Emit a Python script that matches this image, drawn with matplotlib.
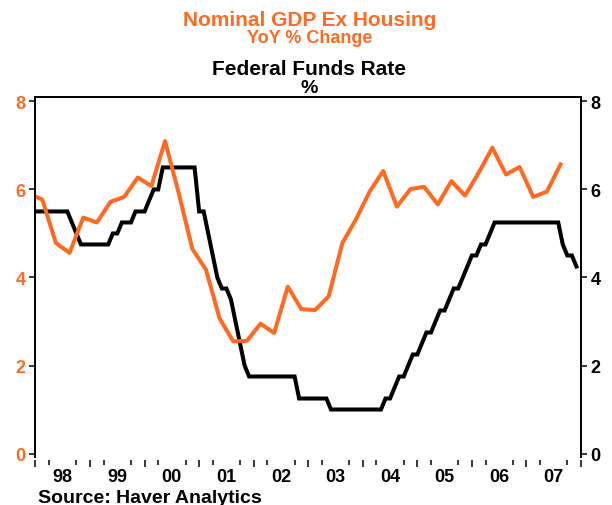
import matplotlib
matplotlib.use("Agg")
import matplotlib.pyplot as plt
import pandas as pd
from matplotlib.ticker import FixedLocator, NullFormatter

plt.rcParams['font.family'] = ['Liberation Sans', 'DejaVu Sans']

ORANGE = '#FF6A22'

# ---- data ----
gdp_quarters = ['1997Q4',
                '1998Q1', '1998Q2', '1998Q3', '1998Q4',
                '1999Q1', '1999Q2', '1999Q3', '1999Q4',
                '2000Q1', '2000Q2', '2000Q3', '2000Q4',
                '2001Q1', '2001Q2', '2001Q3', '2001Q4',
                '2002Q1', '2002Q2', '2002Q3', '2002Q4',
                '2003Q1', '2003Q2', '2003Q3', '2003Q4',
                '2004Q1', '2004Q2', '2004Q3', '2004Q4',
                '2005Q1', '2005Q2', '2005Q3', '2005Q4',
                '2006Q1', '2006Q2', '2006Q3', '2006Q4',
                '2007Q1', '2007Q2', '2007Q3']
gdp_yoy = [5.91,
           5.77, 4.78, 4.56, 5.36,
           5.25, 5.72, 5.83, 6.27,
           6.08, 7.10, 5.92, 4.65,
           4.18, 3.07, 2.55, 2.56,
           2.95, 2.74, 3.79, 3.28,
           3.26, 3.57, 4.78, 5.32,
           5.95, 6.42, 5.61, 6.01,
           6.06, 5.66, 6.19, 5.86,
           6.38, 6.95, 6.34, 6.51,
           5.83, 5.95, 6.57]

ff_start = '1998-01'
fed_funds = [
    5.50, 5.50, 5.50, 5.50, 5.50, 5.50, 5.50, 5.50, 5.25, 5.00, 4.75, 4.75,  # 1998
    4.75, 4.75, 4.75, 4.75, 4.75, 5.00, 5.00, 5.25, 5.25, 5.25, 5.50, 5.50,  # 1999
    5.50, 5.75, 6.00, 6.00, 6.50, 6.50, 6.50, 6.50, 6.50, 6.50, 6.50, 6.50,  # 2000
    5.50, 5.50, 5.00, 4.50, 4.00, 3.75, 3.75, 3.50, 3.00, 2.50, 2.00, 1.75,  # 2001
    1.75, 1.75, 1.75, 1.75, 1.75, 1.75, 1.75, 1.75, 1.75, 1.75, 1.25, 1.25,  # 2002
    1.25, 1.25, 1.25, 1.25, 1.25, 1.00, 1.00, 1.00, 1.00, 1.00, 1.00, 1.00,  # 2003
    1.00, 1.00, 1.00, 1.00, 1.00, 1.25, 1.25, 1.50, 1.75, 1.75, 2.00, 2.25,  # 2004
    2.25, 2.50, 2.75, 2.75, 3.00, 3.25, 3.25, 3.50, 3.75, 3.75, 4.00, 4.25,  # 2005
    4.50, 4.50, 4.75, 4.75, 5.00, 5.25, 5.25, 5.25, 5.25, 5.25, 5.25, 5.25,  # 2006
    5.25, 5.25, 5.25, 5.25, 5.25, 5.25, 5.25, 5.25, 4.75, 4.50, 4.50, 4.25,  # 2007
]

year_labels = ['98', '99', '00', '01', '02', '03', '04', '05', '06', '07']
y_ticks = [0, 2, 4, 6, 8]

# ---- positions on a decimal-year scale ----
qp = pd.PeriodIndex(gdp_quarters, freq='Q')
gdp_x = qp.year + (qp.quarter - 0.5) / 4.0
mp = pd.period_range(ff_start, periods=len(fed_funds), freq='M')
ff_x = mp.year + (mp.month - 1) / 12.0
first_year = int(qp.year.min()) + 1
years = list(range(first_year, first_year + len(year_labels) + 1))

# ---- figure ----
fig = plt.figure(figsize=(6.12, 5.06), dpi=100)
ax = fig.add_axes([0.058, 0.0939, 0.8913, 0.7115])
ax2 = ax.twinx()

ax.plot(ff_x, fed_funds, color='black', lw=2.9, zorder=3, solid_joinstyle='miter')
ax.plot(gdp_x, gdp_yoy, color=ORANGE, lw=2.9, zorder=4)

ax.set_xlim(years[0], years[-1])
ax.set_ylim(-0.09, 8.09)
ax2.set_ylim(-0.09, 8.09)

# y axes
ax.set_yticks(y_ticks)
ax.set_yticklabels([str(v) for v in y_ticks])
ax.tick_params(axis='y', direction='out', length=4, width=1.1, pad=3,
               labelsize=13, labelcolor=ORANGE)
for lab in ax.get_yticklabels():
    lab.set_fontweight('bold')
ax2.set_yticks(y_ticks)
ax2.set_yticklabels([str(v) for v in y_ticks])
ax2.tick_params(axis='y', direction='out', length=4, width=1.1, pad=3,
                labelsize=13, labelcolor='black')
for lab in ax2.get_yticklabels():
    lab.set_fontweight('bold')

# spines
for a in (ax, ax2):
    for s in a.spines.values():
        s.set_linewidth(1.3)
    a.spines['bottom'].set_position(('outward', 1.8))
    a.spines['bottom'].set_color('none')

# x ticks: long at year starts, short at Apr / Oct
ax.xaxis.set_major_locator(FixedLocator(years))
ax.xaxis.set_major_formatter(NullFormatter())
minor = []
for y in years[:-1]:
    minor += [y + 0.25, y + 0.75]
ax.xaxis.set_minor_locator(FixedLocator(minor))
ax.tick_params(axis='x', which='major', direction='out', length=5.2, width=1.1)
ax.tick_params(axis='x', which='minor', direction='out', length=3.3, width=1.1)

sec = ax.secondary_xaxis(-0.007)
sec.set_xticks([y + 0.5 for y in years[:-1]])
sec.set_xticklabels(year_labels)
sec.tick_params(axis='x', length=0, pad=5.5, labelsize=13)
for lab in sec.get_xticklabels():
    lab.set_fontweight('bold')
sec.spines['bottom'].set_visible(False)

# titles
cx = 0.5055
fig.text(cx, 1 - 26 / 506, 'Nominal GDP Ex Housing', color=ORANGE, fontsize=15,
         fontweight='bold', ha='center', va='baseline')
fig.text(cx, 1 - 42.7 / 506, 'YoY % Change', color=ORANGE, fontsize=13,
         fontweight='bold', ha='center', va='baseline')
fig.text(cx, 1 - 75 / 506, 'Federal Funds Rate', color='black', fontsize=15,
         fontweight='bold', ha='center', va='baseline')
fig.text(cx, 1 - 92.7 / 506, '%', color='black', fontsize=14,
         fontweight='bold', ha='center', va='baseline')
fig.text(38 / 612, 1 - 502.7 / 506, 'Source: Haver Analytics', color='black',
         fontsize=14, fontweight='bold', ha='left', va='baseline')

fig.savefig('out.png', dpi=100)
